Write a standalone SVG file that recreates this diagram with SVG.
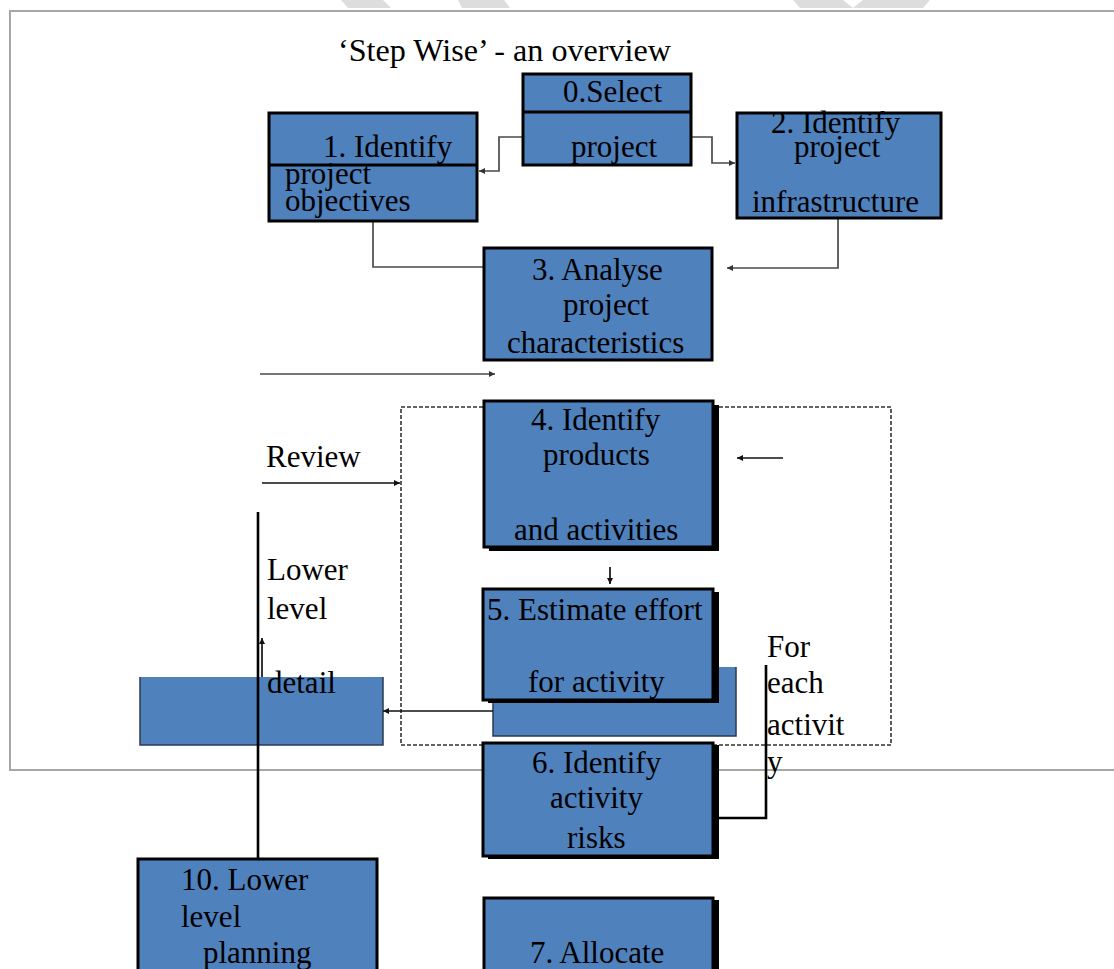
<svg xmlns="http://www.w3.org/2000/svg" width="1114" height="969" viewBox="0 0 1114 969">
  <style>
    text { font-family: "Liberation Serif", "Times New Roman", serif; font-size: 31px; fill: #000; }
    .box { fill: #4f81bd; stroke: #000; stroke-width: 3; }
    .shadow { fill: #000; }
    .panel { fill: #4f81bd; }
    .panel-edge { fill: none; stroke: #2c3a52; stroke-width: 1.5; }
    .frame { fill: none; stroke: #a6a6a6; stroke-width: 2; }
    .gray { fill: none; stroke: #4a4a4a; stroke-width: 1.7; }
    .thin { fill: none; stroke: #111; stroke-width: 1.7; }
    .thick { fill: none; stroke: #000; stroke-width: 2.6; }
    .dash { fill: none; stroke: #333; stroke-width: 1.6; stroke-dasharray: 4 2; }
    .mark { fill: #ddd; }
  </style>
  <defs>
    <marker id="arr" viewBox="0 0 10 10" refX="10" refY="5" markerWidth="7" markerHeight="6" orient="auto" markerUnits="userSpaceOnUse">
      <path d="M0,0 L10,5 L0,10 z" fill="#111"/>
    </marker>
    <marker id="arrg" viewBox="0 0 10 10" refX="10" refY="5" markerWidth="7" markerHeight="6" orient="auto" markerUnits="userSpaceOnUse">
      <path d="M0,0 L10,5 L0,10 z" fill="#333"/>
    </marker>
  </defs>

  <rect width="1114" height="969" fill="#fff"/>

  <!-- page decoration -->
  <g id="page-marks">
    <polygon class="mark" points="341,0 383,0 391,8 348,8"/>
    <polygon class="mark" points="458,0 504,0 510,8 462,8"/>
    <polygon class="mark" points="793,0 843,0 853,8 863,0 930,0 923,8 800,8"/>
  </g>

  <!-- slide frame -->
  <g id="frame">
    <line class="frame" x1="9" y1="11" x2="1114" y2="11"/>
    <line class="frame" x1="10" y1="11" x2="10" y2="770"/>
    <line class="frame" x1="9" y1="770" x2="1114" y2="770"/>
  </g>

  <text id="title" x="338" y="61" textLength="333" lengthAdjust="spacingAndGlyphs">‘Step Wise’ - an overview</text>

  <!-- repeated-step region -->
  <rect id="loop-region" class="dash" x="401" y="407" width="490" height="338"/>

  <!-- lower-level detail panels -->
  <g id="detail-panel">
    <rect class="panel" x="140" y="677" width="243" height="68"/>
    <path class="panel-edge" d="M140,677 V745 H383 V677"/>
  </g>
  <g id="activity-panel">
    <rect class="panel" x="493" y="667" width="243" height="69"/>
    <path class="panel-edge" d="M493,700 V736 H736 V667"/>
  </g>

  <g id="connectors">
    <!-- 0 -> 1 -->
    <path class="gray" d="M522,137 H499 V171 H479" marker-end="url(#arrg)"/>
    <!-- 0 -> 2 -->
    <path class="gray" d="M692,137 H712 V163 H735" marker-end="url(#arrg)"/>
    <!-- 1 -> 3 -->
    <path class="gray" d="M373,222 V267 H483"/>
    <!-- 2 -> 3 -->
    <path class="gray" d="M838,219 V268 H727" marker-end="url(#arrg)"/>
    <!-- return arrow toward step 4 -->
    <path class="gray" d="M260,374 H495" marker-end="url(#arrg)"/>
    <!-- review -->
    <path class="thin" d="M262,483 H400" marker-end="url(#arr)"/>
    <!-- into step 4 from the right -->
    <path class="thin" d="M783,458 H737" marker-end="url(#arr)"/>
    <!-- 4 -> 5 -->
    <path class="thin" d="M610,567 V584" marker-end="url(#arr)"/>
    <!-- to lower level detail -->
    <path class="thin" d="M493,711 H383" marker-end="url(#arr)"/>
    <!-- lower level planning line -->
    <line class="thick" x1="258" y1="512" x2="258" y2="858"/>
    <path class="thin" d="M262,677 V638" marker-end="url(#arr)"/>
    <!-- for each activity loop -->
    <path class="thick" d="M766,665 V818 H712"/>
  </g>

  <g id="step0">
    <rect class="box" x="523" y="74" width="168" height="91"/>
    <line x1="523" y1="112" x2="691" y2="112" stroke="#000" stroke-width="3"/>
    <text x="563" y="102">0.Select</text>
    <text x="571" y="157">project</text>
  </g>

  <g id="step1">
    <rect class="box" x="269" y="113" width="208" height="108"/>
    <line x1="269" y1="165" x2="477" y2="165" stroke="#000" stroke-width="3"/>
    <text x="323" y="157">1. Identify</text>
    <text x="285" y="184">project</text>
    <text x="285" y="211">objectives</text>
  </g>

  <g id="step2">
    <rect class="box" x="737" y="113" width="204" height="105"/>
    <text x="771" y="133">2. Identify</text>
    <text x="794" y="157">project</text>
    <text x="752" y="212">infrastructure</text>
  </g>

  <g id="step3">
    <rect class="box" x="484" y="248" width="228" height="112"/>
    <text x="532" y="280">3. Analyse</text>
    <text x="563" y="315">project</text>
    <text x="507" y="353">characteristics</text>
  </g>

  <g id="step4">
    <rect class="shadow" x="489" y="405" width="230" height="146"/>
    <rect class="box" x="484" y="401" width="229" height="146"/>
    <text x="531" y="430">4. Identify</text>
    <text x="543" y="465">products</text>
    <text x="514" y="540">and activities</text>
  </g>

  <g id="step5">
    <rect class="shadow" x="488" y="592" width="231" height="111"/>
    <rect class="box" x="483" y="589" width="230" height="111"/>
    <text x="487" y="620">5. Estimate effort</text>
    <text x="528" y="692">for activity</text>
  </g>

  <g id="step6">
    <rect class="shadow" x="488" y="745" width="231" height="114"/>
    <rect class="box" x="483" y="743" width="230" height="113"/>
    <text x="532" y="773">6. Identify</text>
    <text x="550" y="808">activity</text>
    <text x="567" y="848">risks</text>
  </g>

  <g id="step10">
    <rect class="box" x="138" y="859" width="239" height="130"/>
    <text x="181" y="890">10. Lower</text>
    <text x="181" y="927">level</text>
    <text x="203" y="963">planning</text>
  </g>

  <g id="step7">
    <rect class="shadow" x="489" y="900" width="230" height="90"/>
    <rect class="box" x="484" y="898" width="229" height="90"/>
    <text x="530" y="963">7. Allocate</text>
  </g>

  <g id="labels">
    <text x="266" y="467">Review</text>
    <text x="267" y="580">Lower</text>
    <text x="267" y="619">level</text>
    <text x="267" y="693">detail</text>
    <text x="767" y="657">For</text>
    <text x="767" y="693">each</text>
    <text x="767" y="735">activit</text>
    <text x="767" y="772">y</text>
  </g>
</svg>
